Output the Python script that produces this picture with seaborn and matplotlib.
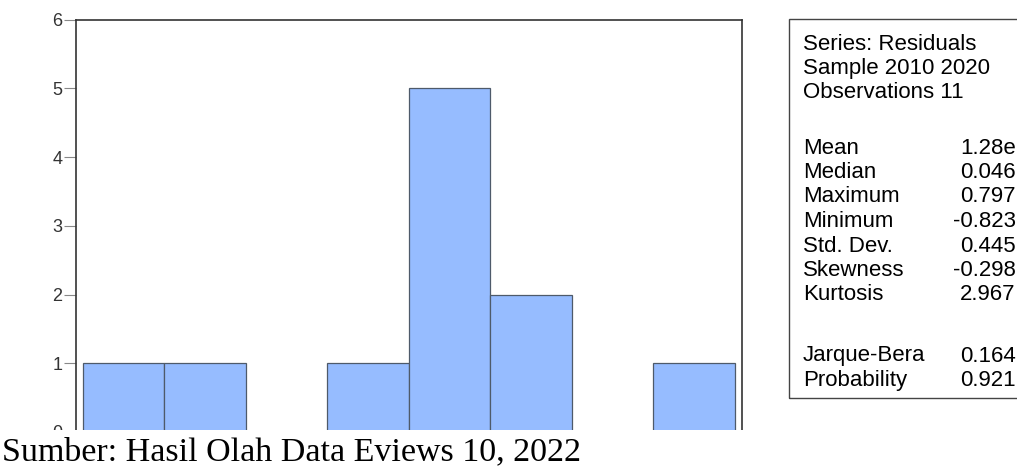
import numpy as np
import pandas as pd
from matplotlib import pyplot as plt
import seaborn as sns


# Histogram of residuals (EViews normality test output), bins of width 0.25
bin_edges = [-1.0, -0.75, -0.5, -0.25, 0.0, 0.25, 0.5, 0.75, 1.0]
bin_counts = [1, 1, 0, 1, 5, 2, 0, 1]
y_ticks = [0, 1, 2, 3, 4, 5, 6]

# Statistics panel
header_lines = ['Series: Residuals', 'Sample 2010 2020', 'Observations 11']
stat_names = ['Mean', 'Median', 'Maximum', 'Minimum', 'Std. Dev.', 'Skewness', 'Kurtosis']
stat_values = ['1.28e', '0.046', '0.797', '-0.823', '0.445', '-0.298', '2.967']
test_names = ['Jarque-Bera', 'Probability']
test_values = ['0.164', '0.921']

caption = 'Sumber: Hasil Olah Data Eviews 10, 2022'


sns.set_style('white')
plt.rcParams['font.family'] = ['Liberation Sans', 'DejaVu Sans']

centers = [(a + b) / 2 for a, b in zip(bin_edges[:-1], bin_edges[1:])]
hist = pd.DataFrame({'resid': centers, 'count': bin_counts})

fig = plt.figure(figsize=(10.17, 4.68), dpi=100)
W, H = 1017, 468
ax = fig.add_axes([75.5 / W, 1 - 430 / H, (742 - 75.5) / W, (430 - 19.5) / H])

sns.histplot(data=hist, x='resid', weights='count', bins=bin_edges, ax=ax,
             color='#96BCFF', alpha=1, edgecolor='#4E5A6A', linewidth=0.9)

ax.set_xlim(-1.0215, 1.0215)
ax.set_ylim(0.03, 6)
ax.set_yticks(y_ticks[1:])
ax.set_xticks([])
ax.set_xlabel('')
ax.set_ylabel('')
tick_fs = 13
ax.tick_params(axis='y', left=True, length=8.5, width=0.8, color='#888888',
               labelsize=tick_fs, labelcolor='#333333', pad=1)
for side in ['left', 'top', 'right']:
    ax.spines[side].set_color('#333333')
    ax.spines[side].set_linewidth(1.2)
ax.spines['bottom'].set_visible(False)

# the "0" tick label is cut off by the crop at the bottom
fig.text(62 / W, 1 - 433 / H, '0', fontsize=tick_fs, color='#333333',
         ha='right', va='center')
fig.patches.append(plt.Rectangle((0, 0), 1, 1 - 429.5 / H, transform=fig.transFigure,
                                 facecolor='white', edgecolor='none', zorder=5))

# stats box
box = plt.Rectangle((789 / W, 1 - 398 / H), (1030 - 789) / W, (398 - 19) / H,
                    transform=fig.transFigure, facecolor='none',
                    edgecolor='#444444', linewidth=1.0)
fig.patches.append(box)

fs = 16


def value_x(v):
    return (953 if v.startswith('-') else 960) / W


y = 44
for line in header_lines:
    fig.text(803 / W, 1 - y / H, line, fontsize=fs, va='center', color='black')
    y += 24.5
y = 148
for name, val in zip(stat_names, stat_values):
    fig.text(803 / W, 1 - y / H, name, fontsize=fs, va='center', color='black')
    fig.text(value_x(val), 1 - y / H, val, fontsize=fs, va='center', ha='left', color='black')
    y += 24.5
y = 356
for name, val in zip(test_names, test_values):
    fig.text(803 / W, 1 - y / H, name, fontsize=fs, va='center', color='black')
    fig.text(value_x(val), 1 - y / H, val, fontsize=fs, va='center', ha='left', color='black')
    y += 24.5

fig.text(2 / W, 1 - 452 / H, caption, fontsize=24.5, va='center', ha='left',
         family=['Liberation Serif', 'DejaVu Serif'], color='black', zorder=6)

fig.savefig('out.png', dpi=100)
